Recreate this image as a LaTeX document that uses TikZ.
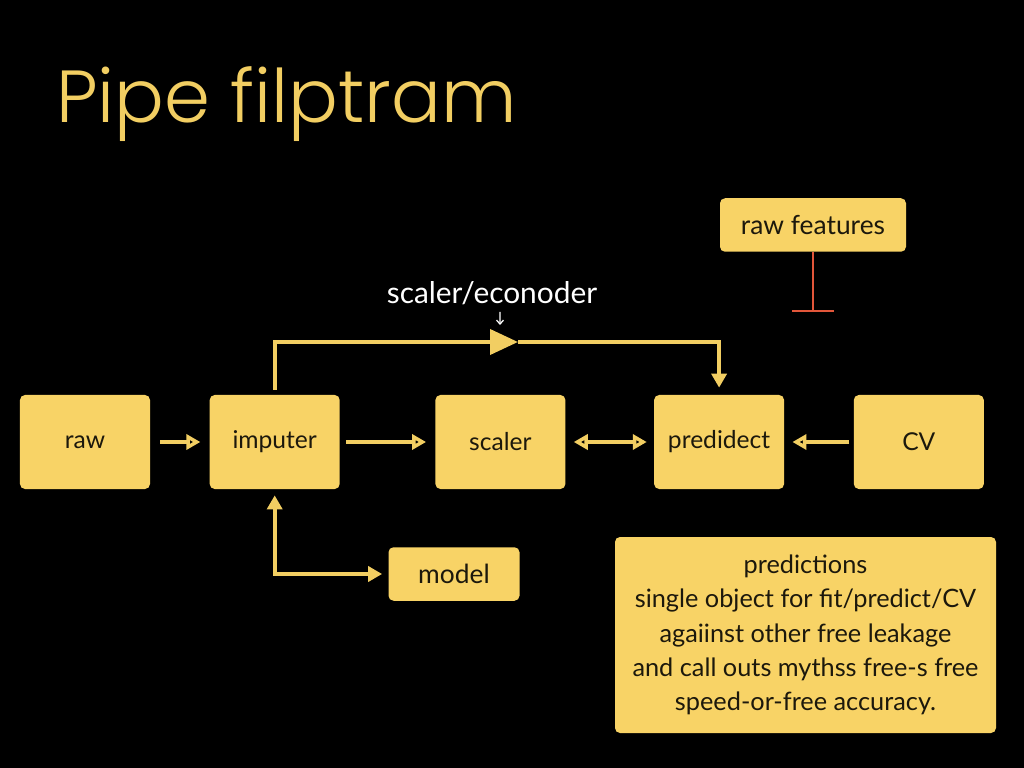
\documentclass[tikz,border=0pt]{standalone}
\usepackage{fontspec}
\setmainfont{Lato}
\newfontfamily\titlefont{Poppins}[UprightFont={* Light}]
\usepackage{tikz}
\usetikzlibrary{positioning,arrows.meta}
\definecolor{boxfill}{RGB}{248,211,102}
\definecolor{flowline}{RGB}{242,206,98}
\definecolor{inktext}{RGB}{28,24,12}
\definecolor{stopline}{RGB}{226,86,58}
\tikzset{
  >={Triangle[length=0.28cm,width=0.3cm]},
  stage/.style={draw=none, fill=boxfill, rounded corners=0.1cm, text=inktext,
    minimum width=2.6cm, minimum height=1.88cm, font=\fontsize{14}{16}\selectfont},
  tag/.style={stage, minimum height=1.07cm, font=\fontsize{15}{18}\selectfont},
  link/.style={draw=flowline, line width=2.2pt},
  stopper/.style={draw=stopline, line width=1.4pt, -{Bar[width=0.84cm,line width=1.4pt]}},
}

\begin{document}
\begin{tikzpicture}[node distance=1.18cm]
  \fill[black] (0,0) rectangle (20.48,-15.36);
  \useasboundingbox (0,0) rectangle (20.48,-15.36);

  \node[anchor=base west, text=flowline, font=\titlefont\fontsize{42}{48}\selectfont]
    (title) at (1.0,-2.46) {Pipe filptram};

  \node[stage]                       (raw)       at (1.7,-8.84) {raw};
  \node[stage, right=1.18cm of raw]  (imputer)   {imputer};
  \node[stage, right=1.9cm of imputer] (scaler)  {scaler};
  \node[stage, right=1.76cm of scaler] (predidect) {predidect};
  \node[stage, right=1.38cm of predidect] (cv)   {CV};

  \node[tag, minimum width=3.72cm] (rawfeat) at (16.26,-4.5) {raw features};
  \node[tag, minimum width=2.62cm] (model)   at (9.08,-11.48) {model};
  \node[tag, minimum width=7.62cm, minimum height=3.92cm, align=center,
        font=\fontsize{14.4}{19.5}\selectfont] (notes) at (16.11,-12.7)
    {predictions\\ single object for fit/predict/CV\\ agaiinst other free leakage\\
     and call outs mythss free-s free\\ speed-or-free accuracy.};

  \node[text=white, font=\fontsize{17}{20}\selectfont] (enc) at (9.84,-5.86) {scaler/econoder};
  \coordinate (encTip) at (10.0,-6.5);
  \draw[white, line width=0.7pt, -{Straight Barb[length=0.08cm,width=0.14cm]}]
    ([xshift=0.16cm,yshift=-0.02cm]enc.south) -- (encTip);

  \coordinate (topL) at (imputer.north |- 0,-6.84);
  \coordinate (mid)  at (10.36,-6.84);
  \coordinate (topR) at (predidect.north |- 0,-6.84);
  \coordinate (block) at (16.26,-6.24);

  \path[->, link]
    (raw) edge[shorten <=0.2cm, shorten >=0.18cm] (imputer)
    (imputer) edge[shorten <=0.12cm, shorten >=0.18cm] (scaler)
    (scaler) edge[<->, shorten <=0.16cm, shorten >=0.14cm] (predidect)
    (cv) edge[shorten <=0.08cm, shorten >=0.16cm] (predidect);
  \draw[link, -{Triangle[length=0.56cm,width=0.5cm]}]
    ([yshift=0.1cm]imputer.north) -- (topL) -- (mid);
  \draw[link, ->, shorten >=0.14cm] (mid) -- (topR) -- (predidect.north);
  \draw[link, <->, shorten <=0.12cm, shorten >=0.12cm] (imputer.south) |- (model.west);
  \draw[stopper] (rawfeat.south) -- (block);
\end{tikzpicture}
\end{document}
